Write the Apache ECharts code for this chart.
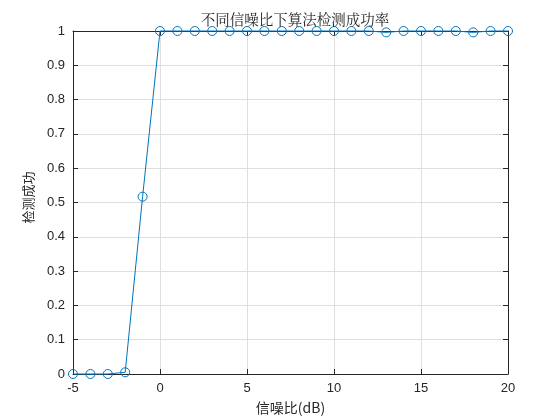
<!DOCTYPE html>
<html><head><meta charset="utf-8">
<script src="https://cdn.jsdelivr.net/npm/echarts@6/dist/echarts.min.js"></script>
<style>html,body{margin:0;padding:0;background:#fff}#c{width:560px;height:420px}</style>
</head><body><div id="c"></div>
<script>
const snr = [-5,-4,-3,-2,-1,0,1,2,3,4,5,6,7,8,9,10,11,12,13,14,15,16,17,18,19,20];
const rate = [0,0,0,0.005,0.517,1,1,1,1,1,1,1,1,1,1,1,1,1,0.996,1,1,1,1,0.996,1,1];
const titleText = '不同信噪比下算法检测成功率';
const xName = '信噪比(dB)';
const yName = '检测成功';
const blue = '#0072BD';
const chart = echarts.init(document.getElementById('c'));
const lbl = {color:'#262626', fontFamily:'Liberation Sans, Arial', fontSize:13};
chart.setOption({
  animation:false,
  title:{text:titleText, left:290, textAlign:'center', top:7, textStyle:{fontFamily:'Noto Serif CJK SC, Noto Sans CJK SC', fontWeight:'normal', fontSize:14.5, color:'#262626'}},
  grid:{left:73, right:52, top:31, bottom:45, show:false},
  xAxis:[{type:'value', min:-5, max:20, interval:5, name:xName, nameLocation:'middle', nameGap:27,
    nameTextStyle:{fontFamily:'Noto Sans CJK SC', fontSize:14, color:'#262626'},
    axisLine:{onZero:false, lineStyle:{color:'#262626'}}, axisTick:{inside:true, length:5, lineStyle:{color:'#262626'}},
    axisLabel:Object.assign({margin:8}, lbl), splitLine:{show:true, lineStyle:{color:'#dfdfdf'}}},
   {type:'value', position:'top', min:-5, max:20, interval:5, axisLine:{show:true, onZero:false, lineStyle:{color:'#262626'}},
    axisTick:{show:true, inside:true, length:5, lineStyle:{color:'#262626'}}, axisLabel:{show:false}, splitLine:{show:false}}],
  yAxis:[{type:'value', min:0, max:1, interval:0.1, name:yName, nameLocation:'middle', nameGap:38,
    nameTextStyle:{fontFamily:'Noto Sans CJK SC', fontSize:13, color:'#262626', padding:[0,0,0,10]},
    axisLine:{show:true, onZero:false, lineStyle:{color:'#262626'}}, axisTick:{show:true, inside:true, length:5, lineStyle:{color:'#262626'}},
    axisLabel:Object.assign({margin:8, formatter:v=>String(Math.round(v*10)/10)}, lbl), splitLine:{show:true, lineStyle:{color:'#dfdfdf'}}},
   {type:'value', position:'right', min:0, max:1, interval:0.1, axisLine:{show:true, onZero:false, lineStyle:{color:'#262626'}},
    axisTick:{show:true, inside:true, length:5, lineStyle:{color:'#262626'}}, axisLabel:{show:false}, splitLine:{show:false}}],
  series:[{type:'line', data:snr.map((x,i)=>[x,rate[i]]), symbol:'circle', symbolSize:9, showAllSymbol:true,
    lineStyle:{color:blue, width:1}, itemStyle:{color:'rgba(255,255,255,0)', borderColor:blue, borderWidth:1}, z:5, clip:false}]
});
</script></body></html>
